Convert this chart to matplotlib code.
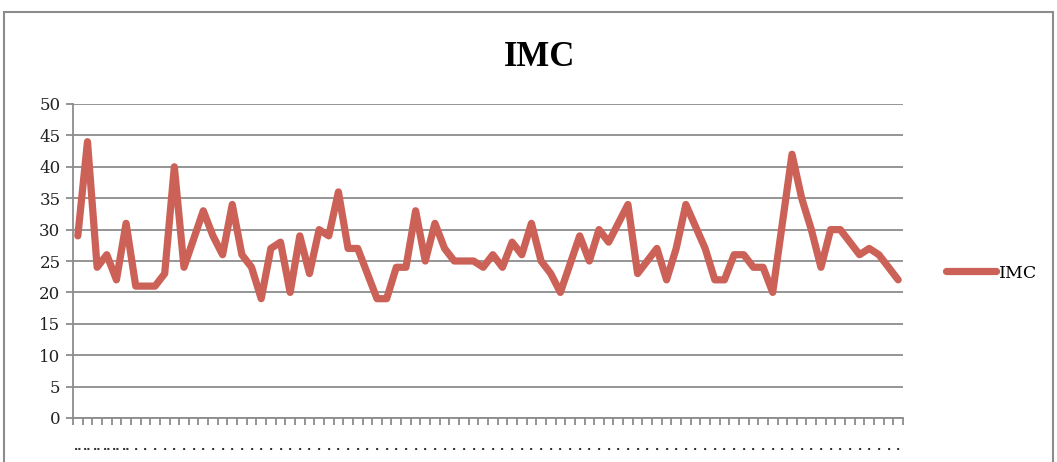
import numpy as np
import matplotlib
matplotlib.use("Agg")
import matplotlib.pyplot as plt
from matplotlib.patches import Rectangle

# IMC values, one per category
imc = [29, 44, 24, 26, 22, 31, 21, 21, 21, 23,
       40, 24, 28.5, 33, 29, 26, 34, 26, 24, 19,
       27, 28, 20, 29, 23, 30, 29, 36, 27, 27,
       23, 19, 19, 24, 24, 33, 25, 31, 27, 25,
       25, 25, 24, 26, 24, 28, 26, 31, 25, 23,
       20, 24.5, 29, 25, 30, 28, 31, 34, 23, 25,
       27, 22, 27, 34, 30.5, 27, 22, 22, 26, 26,
       24, 24, 20, 31, 42, 35, 30, 24, 30, 30,
       28, 26, 27, 26, 24, 22]
# category labels show up as truncated dots
cat_labels = [".." if i < 6 else "." for i in range(len(imc))]
y_ticks = [0, 5, 10, 15, 20, 25, 30, 35, 40, 45, 50]

line_color = "#CB6157"
grid_color = "#8C8C8C"
serif = ["DejaVu Serif"]

fig = plt.figure(figsize=(10.57, 4.62), dpi=100)
ax = fig.add_axes([73 / 1057, 1 - 418 / 462, 830 / 1057, 314 / 462])

x = np.arange(len(imc))
ax.plot(x, imc, color=line_color, linewidth=5.2, solid_joinstyle="round",
        solid_capstyle="round", label="IMC", zorder=3)

ax.set_xlim(-0.5, len(imc) - 0.5)
ax.set_ylim(0, 50)
ax.set_yticks(y_ticks)
ax.yaxis.grid(True, color=grid_color, linewidth=1.3)
ax.set_axisbelow(True)

# tick marks at category boundaries, labels at category centres
ax.set_xticks(np.arange(-0.5, len(imc), 1.0))
ax.set_xticklabels([])
ax.set_xticks(x, minor=True)
ax.set_xticklabels(cat_labels, minor=True, fontsize=8, family="DejaVu Sans",
                   fontweight="bold", color="#333333")
ax.tick_params(axis="x", which="major", length=5, width=1.3, color=grid_color, direction="out")
ax.tick_params(axis="x", which="minor", length=0, pad=17)
ax.tick_params(axis="y", length=5, width=1.3, color=grid_color, direction="out", pad=4)
for lab in ax.get_yticklabels():
    lab.set_fontfamily(serif)
    lab.set_fontsize(12)
    lab.set_color("#222222")

for side in ["top", "right"]:
    ax.spines[side].set_visible(False)
for side in ["left", "bottom"]:
    ax.spines[side].set_color(grid_color)
    ax.spines[side].set_linewidth(1.3)

fig.text(540 / 1057, 1 - 57 / 462, "IMC", ha="center", va="center",
         fontsize=25, fontweight="bold", family=["Liberation Serif"])

leg = fig.legend(loc="center left", bbox_to_anchor=(930 / 1057, 1 - 273 / 462),
                 frameon=False, prop={"family": serif, "size": 12.5},
                 handlelength=2.9, handletextpad=0.15)

# outer chart frame
fig.patches.append(Rectangle((4 / 1057, -0.1), 1049 / 1057, 1.1 - 12 / 462,
                             transform=fig.transFigure, fill=False,
                             edgecolor="#8C8C8C", linewidth=1.5))

fig.savefig("out.png", dpi=100)
